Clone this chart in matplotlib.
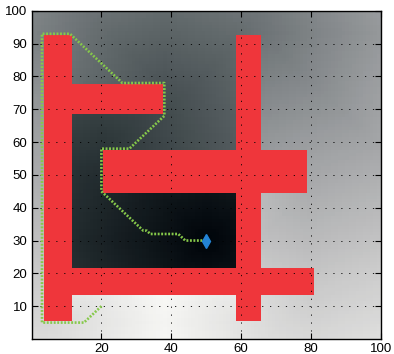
import heapq
import numpy as np
import matplotlib
matplotlib.use("Agg")
import matplotlib.pyplot as plt
from matplotlib.patches import Rectangle
from matplotlib.colors import LinearSegmentedColormap

# obstacles: (x0, x1, y0, y1)
obst_x0 = [3.5, 11.5, 20.5, 58.5, 11.5]
obst_x1 = [11.5, 37.5, 78.5, 65.5, 80.5]
obst_y0 = [5.5, 68.5, 44.5, 5.5, 13.5]
obst_y1 = [92.5, 77.5, 57.5, 92.5, 21.5]

goal = (50, 30)
start = (20, 10)

# path corners
path_x = [20, 15, 3, 3, 11, 26, 38, 38, 28, 20, 20, 32, 33, 34, 42, 44, 50]
path_y = [10, 5, 5, 93, 93, 78, 78, 68, 58, 58, 45, 33, 33, 32, 32, 30, 30]

xticks = [20, 40, 60, 80, 100]
yticks = [10, 20, 30, 40, 50, 60, 70, 80, 90, 100]

RED = "#ef363b"


def wavefront(n, blocked, gx, gy):
    # geodesic distance from the goal, 8-connected grid
    dist = np.full((n, n), np.inf)
    dist[gy, gx] = 0.0
    pq = [(0.0, gx, gy)]
    steps = [(1, 0, 1.0), (-1, 0, 1.0), (0, 1, 1.0), (0, -1, 1.0),
             (1, 1, 1.4142), (1, -1, 1.4142), (-1, 1, 1.4142), (-1, -1, 1.4142)]
    while pq:
        d, x, y = heapq.heappop(pq)
        if d > dist[y, x]:
            continue
        for dx, dy, c in steps:
            nx, ny = x + dx, y + dy
            if 0 <= nx < n and 0 <= ny < n and not blocked[ny, nx]:
                nd = d + c
                if nd < dist[ny, nx]:
                    dist[ny, nx] = nd
                    heapq.heappush(pq, (nd, nx, ny))
    return dist


n = 101
xx, yy = np.meshgrid(np.arange(n), np.arange(n))
blocked = np.zeros((n, n), dtype=bool)
for x0, x1, y0, y1 in zip(obst_x0, obst_x1, obst_y0, obst_y1):
    blocked |= (xx > x0) & (xx < x1) & (yy > y0) & (yy < y1)

field = wavefront(n, blocked, goal[0], goal[1])
field[blocked] = np.nan

cmap = LinearSegmentedColormap.from_list("slate", [
    (0.0, (0.0, 0.02, 0.04)),
    (0.2, (0.17, 0.21, 0.22)),
    (0.4, (0.37, 0.40, 0.41)),
    (0.6, (0.60, 0.61, 0.62)),
    (0.8, (0.80, 0.80, 0.80)),
    (1.0, (0.97, 0.97, 0.96)),
])
cmap.set_bad(RED)

fig = plt.figure(figsize=(3.94, 3.54), dpi=100)
ax = fig.add_axes([0.080, 0.0424, 0.887, 0.927])

ax.imshow(field, origin="lower", cmap=cmap, extent=[-0.5, 100.5, -0.5, 100.5],
          vmin=0, vmax=np.nanmax(field), interpolation="nearest",
          aspect="auto", zorder=0)

for x0, x1, y0, y1 in zip(obst_x0, obst_x1, obst_y0, obst_y1):
    ax.add_patch(Rectangle((x0, y0), x1 - x0, y1 - y0, facecolor=RED,
                           edgecolor="none", zorder=1))

ax.set_xlim(0, 100)
ax.set_ylim(0, 100)
ax.set_xticks(xticks)
ax.set_yticks(yticks)
ax.grid(True, color="black", linewidth=0.6, linestyle=(0, (1.5, 8)), zorder=2)
ax.set_axisbelow(False)

ax.plot(path_x, path_y, color="#86c94a", linewidth=1.9,
        linestyle=(0, (0.72, 0.6)), zorder=3)
ax.plot(goal[0], goal[1], marker="d", color="#2383d4", markersize=7, zorder=4)

ax.tick_params(direction="in", top=True, right=True, length=4, width=0.8,
               labelsize=9.5, pad=3)
for lab in ax.get_xticklabels() + ax.get_yticklabels():
    lab.set_fontfamily("Liberation Sans")
for sp in ax.spines.values():
    sp.set_linewidth(1.0)

fig.savefig("out.png", dpi=100)
